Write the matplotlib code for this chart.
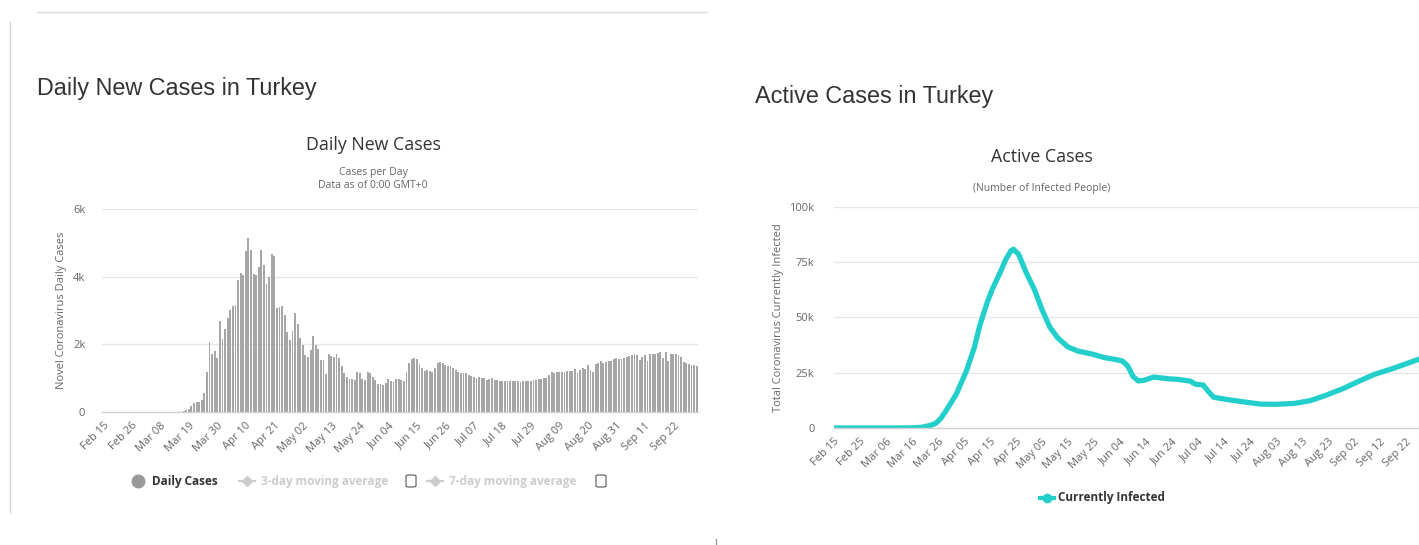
import matplotlib
matplotlib.use("Agg")
import matplotlib.pyplot as plt
import numpy as np
import pandas as pd
from matplotlib.lines import Line2D
from matplotlib.patches import FancyBboxPatch

# ---------------- data ----------------
start_date = "2020-02-15"
daily_cases = (
    [0] * 15 +  # Feb 15-29
    [0] * 10 + [1, 0, 4, 0, 1, 12, 29, 51, 93, 168, 277, 289, 293, 343, 561, 1196, 2069, 1704, 1815, 1610, 2704] +
    [2148, 2456, 2786, 3013, 3135, 3148, 3892, 4117, 4056, 4747, 5138, 4789, 4093, 4062, 4281, 4801, 4353, 3783, 3977, 4674,
     4611, 3083, 3116, 3122, 2861, 2357, 2131, 2392, 2936, 2615] +
    [2188, 1983, 1670, 1614, 1832, 2253, 1977, 1848, 1546, 1542, 1114, 1704, 1641, 1635, 1708, 1610, 1368, 1158, 1022, 972,
     961, 952, 1186, 1141, 987, 948, 1182, 1141, 1035, 952, 839] +
    [827, 786, 867, 988, 930, 878, 989, 987, 940, 922, 1195, 1459, 1562, 1592, 1562, 1429, 1304, 1214, 1248, 1212,
     1192, 1293, 1458, 1492, 1458, 1396, 1356, 1374, 1293, 1255] +
    [1192, 1148, 1162, 1148, 1086, 1053, 1041, 1008, 1024, 1016, 1001, 960, 970, 995, 942, 933, 919, 926, 918, 919,
     913, 906, 927, 911, 897, 917, 930, 928, 914, 936, 942] +
    [982, 983, 1012, 1007, 1083, 1178, 1153, 1178, 1182, 1183, 1196, 1208, 1226, 1219, 1263, 1156, 1244, 1297, 1285, 1395,
     1243, 1192, 1420, 1453, 1502, 1456, 1491, 1517, 1500, 1572, 1596] +
    [1560, 1572, 1593, 1615, 1650, 1670, 1704, 1682, 1527, 1640, 1692, 1512, 1716, 1729, 1716, 1742, 1771, 1600, 1761, 1495,
     1708, 1716, 1710, 1690, 1640, 1470, 1450, 1420, 1395, 1380] +
    [1370]
)

active_dates = ["2020-02-15", "2020-03-10", "2020-03-16", "2020-03-20", "2020-03-23", "2020-03-25", "2020-03-27",
                "2020-03-29", "2020-04-02", "2020-04-06", "2020-04-09", "2020-04-11", "2020-04-14", "2020-04-16",
                "2020-04-19", "2020-04-21", "2020-04-23", "2020-04-24", "2020-04-26", "2020-04-29", "2020-05-02",
                "2020-05-05", "2020-05-08", "2020-05-11", "2020-05-15", "2020-05-19", "2020-05-24", "2020-05-29",
                "2020-06-03", "2020-06-05", "2020-06-07", "2020-06-09", "2020-06-11", "2020-06-13", "2020-06-17",
                "2020-06-23", "2020-06-26", "2020-07-01", "2020-07-03", "2020-07-06", "2020-07-08", "2020-07-10",
                "2020-07-15", "2020-07-21", "2020-07-28", "2020-08-03", "2020-08-10", "2020-08-16", "2020-08-22",
                "2020-08-29", "2020-09-04", "2020-09-10", "2020-09-17", "2020-09-22", "2020-09-27", "2020-10-01"]
active_cases = [0, 0, 50, 350, 1200, 2000, 4200,
                7600, 15200, 26000, 36500, 46000, 57000, 63000,
                70500, 76000, 80000, 80800, 78500, 70000, 62800,
                53500, 45600, 40800, 36600, 34700, 33500, 31800,
                30800, 30200, 28000, 23300, 21300, 21500, 23000,
                22200, 22000, 21200, 19800, 19400, 16500, 13900,
                12900, 11900, 10800, 10700, 11100, 12300, 14700,
                17900, 21200, 24300, 26900, 29000, 31100, 32700]

left_tick_labels = ["Feb 15", "Feb 26", "Mar 08", "Mar 19", "Mar 30", "Apr 10", "Apr 21", "May 02", "May 13",
                    "May 24", "Jun 04", "Jun 15", "Jun 26", "Jul 07", "Jul 18", "Jul 29", "Aug 09", "Aug 20",
                    "Aug 31", "Sep 11", "Sep 22"]
right_tick_labels = ["Feb 15", "Feb 25", "Mar 06", "Mar 16", "Mar 26", "Apr 05", "Apr 15", "Apr 25", "May 05",
                     "May 15", "May 25", "Jun 04", "Jun 14", "Jun 24", "Jul 04", "Jul 14", "Jul 24", "Aug 03",
                     "Aug 13", "Aug 23", "Sep 02", "Sep 12", "Sep 22"]
left_yticks = [0, 2000, 4000, 6000]
left_ytick_labels = ["0", "2k", "4k", "6k"]
right_yticks = [0, 25000, 50000, 75000, 100000]
right_ytick_labels = ["0", "25k", "50k", "75k", "100k"]

# ---------------- figure ----------------
W, H = 1419, 545
fig = plt.figure(figsize=(W / 100, H / 100), dpi=100)
FONT = "Open Sans"
TXT = "#666666"


def fx(x):
    return x / W


def fy(y):
    return 1 - y / H


def style_axes(ax):
    for s in ["top", "right", "left"]:
        ax.spines[s].set_visible(False)
    ax.spines["bottom"].set_color("#d0d0d0")
    ax.spines["bottom"].set_linewidth(1)
    ax.yaxis.grid(True, color="#e6e6e6", lw=1)
    ax.set_axisbelow(True)
    ax.tick_params(axis="both", length=0, colors=TXT, labelsize=8)
    for lab in ax.get_yticklabels() + ax.get_xticklabels():
        lab.set_family(FONT)


# ----- left chart -----
axL = fig.add_axes([fx(102), fy(412), 596 / W, 203 / H])
n = len(daily_cases)
idx = np.arange(n)
axL.bar(idx, daily_cases, width=0.72, color="#a6a6a6", linewidth=0)
axL.set_xlim(-0.5, n - 0.5)
axL.set_ylim(0, 6000)
axL.set_yticks(left_yticks)
axL.set_yticklabels(left_ytick_labels)
axL.set_xticks(np.arange(0, 11 * len(left_tick_labels), 11))
axL.set_xticklabels(left_tick_labels, rotation=45, ha="right", rotation_mode="anchor")
axL.tick_params(axis="y", pad=12)
axL.tick_params(axis="x", pad=6)
style_axes(axL)
axL.set_ylabel("Novel Coronavirus Daily Cases", color=TXT, fontsize=8, family=FONT, labelpad=4)

# ----- right chart -----
start = pd.Timestamp(start_date)
act_x = np.array([(pd.Timestamp(d) - start).days for d in active_dates])
axR = fig.add_axes([fx(834), fy(428), 595.4 / W, 221.3 / H])
axR.plot(act_x, active_cases, color="#22cfcb", lw=3.8, solid_capstyle="round", solid_joinstyle="round")
axR.set_xlim(0, 229)
axR.set_ylim(0, 100000)
axR.set_yticks(right_yticks)
axR.set_yticklabels(right_ytick_labels)
axR.set_xticks(np.arange(0, 10 * len(right_tick_labels), 10))
axR.set_xticklabels(right_tick_labels, rotation=45, ha="right", rotation_mode="anchor")
axR.tick_params(axis="y", pad=14)
axR.tick_params(axis="x", pad=6)
style_axes(axR)
axR.set_ylabel("Total Coronavirus Currently Infected", color=TXT, fontsize=8, family=FONT, labelpad=4)

# ----- titles -----
fig.text(fx(37), fy(88), "Daily New Cases in Turkey", fontsize=16.8, color="#333333",
         family="Liberation Sans", va="center", ha="left")
fig.text(fx(755), fy(97), "Active Cases in Turkey", fontsize=16.8, color="#333333",
         family="Liberation Sans", va="center", ha="left")
fig.text(fx(373), fy(145), "Daily New Cases", fontsize=12.8, color="#333333", family=FONT, ha="center", va="center")
fig.text(fx(373), fy(173), "Cases per Day", fontsize=7.5, color=TXT, family=FONT, ha="center", va="center")
fig.text(fx(373), fy(185), "Data as of 0:00 GMT+0", fontsize=7.5, color=TXT, family=FONT, ha="center", va="center")
fig.text(fx(1042), fy(157), "Active Cases", fontsize=12.8, color="#333333", family=FONT, ha="center", va="center")
fig.text(fx(1042), fy(188), "(Number of Infected People)", fontsize=7.5, color=TXT, family=FONT,
         ha="center", va="center")

# ----- legends -----
ly = fy(481)
fig.add_artist(Line2D([fx(138)], [ly], marker="o", markersize=9, color="#999999", transform=fig.transFigure))
fig.text(fx(152), ly, "Daily Cases", fontsize=8.5, fontweight="bold", color="#333333", family=FONT,
         va="center", ha="left")
for x0, label, cb in [(239, "3-day moving average", 411), (427, "7-day moving average", 601)]:
    fig.add_artist(Line2D([fx(x0), fx(x0 + 16)], [ly, ly], color="#cccccc", lw=1.5, transform=fig.transFigure))
    fig.add_artist(Line2D([fx(x0 + 8)], [ly], color="#cccccc", marker="D", markersize=5, lw=0,
                          transform=fig.transFigure))
    fig.text(fx(x0 + 22), ly, label, fontsize=8.5, fontweight="bold", color="#cccccc", family=FONT,
             va="center", ha="left")
    fig.add_artist(FancyBboxPatch((fx(cb - 5), fy(487)), fx(10), 12 / H,
                                  boxstyle="round,pad=0,rounding_size=0.002", fc="white", ec="#555555", lw=0.8,
                                  transform=fig.transFigure))

ry = fy(498)
fig.add_artist(Line2D([fx(1040), fx(1054)], [ry, ry], color="#22cfcb", lw=3, transform=fig.transFigure))
fig.add_artist(Line2D([fx(1047)], [ry], color="#22cfcb", marker="o", markersize=6, lw=0, transform=fig.transFigure))
fig.text(fx(1058), ry, "Currently Infected", fontsize=8.5, fontweight="bold", color="#333333", family=FONT,
         va="center", ha="left")

# ----- page decorations -----
fig.add_artist(Line2D([fx(37), fx(707)], [fy(12), fy(12)], color="#dddddd", lw=1, transform=fig.transFigure))
fig.add_artist(Line2D([fx(10), fx(10)], [fy(22), fy(512)], color="#d5d5d5", lw=1, transform=fig.transFigure))
fig.add_artist(Line2D([fx(716), fx(716)], [fy(539), fy(545)], color="#999999", lw=1, transform=fig.transFigure))

fig.savefig("out.png", dpi=100, facecolor="white")
